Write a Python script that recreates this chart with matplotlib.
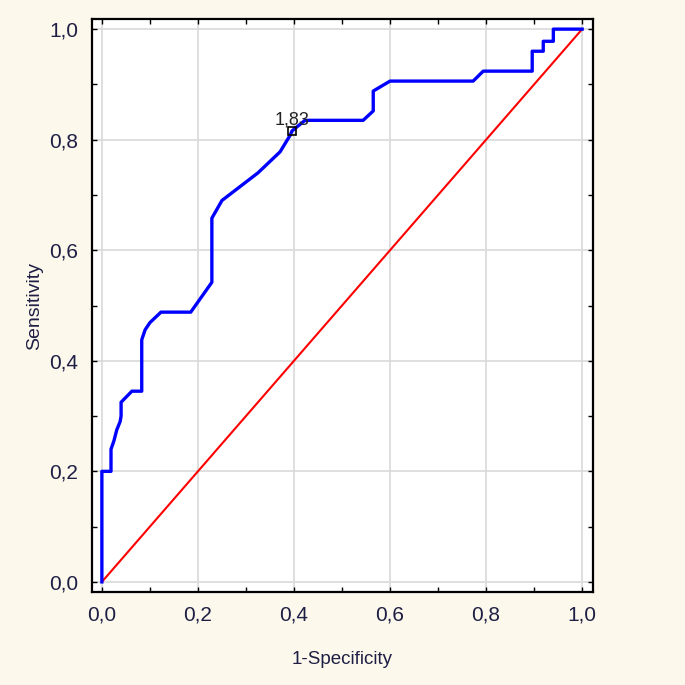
import matplotlib

matplotlib.use("Agg")
import matplotlib.pyplot as plt
from matplotlib.ticker import FuncFormatter, MultipleLocator

# ROC curve points (1-specificity, sensitivity)
fpr = [0.0, 0.0, 0.019, 0.019, 0.025, 0.031, 0.038, 0.040, 0.040, 0.0625,
       0.083, 0.083, 0.090, 0.100, 0.123, 0.185, 0.229, 0.229, 0.250, 0.283,
       0.325, 0.371, 0.392, 0.396, 0.423, 0.544, 0.565, 0.565, 0.600, 0.773,
       0.794, 0.896, 0.896, 0.919, 0.919, 0.940, 0.940, 1.0]
tpr = [0.0, 0.200, 0.200, 0.240, 0.255, 0.275, 0.29, 0.300, 0.325, 0.345,
       0.345, 0.438, 0.456, 0.469, 0.488, 0.488, 0.542, 0.658, 0.690, 0.712,
       0.740, 0.778, 0.808, 0.816, 0.835, 0.835, 0.852, 0.888, 0.906, 0.906,
       0.924, 0.924, 0.960, 0.960, 0.978, 0.978, 1.0, 1.0]

ref_line = [0.0, 1.0]
cutoff_point = (0.396, 0.816)
cutoff_label = "1,83"

ticks = [0.0, 0.2, 0.4, 0.6, 0.8, 1.0]

FONT = ["Liberation Sans Narrow", "Liberation Sans", "DejaVu Sans"]
TEXT_COLOR = "#1f1f45"


def comma_fmt(v, pos):
    return f"{v:.1f}".replace(".", ",")


def main():
    plt.rcParams["font.family"] = FONT
    fig = plt.figure(figsize=(6.85, 6.85), dpi=100, facecolor="#fcf8ec")
    ax = fig.add_axes([0.134, 0.136, 0.732, 0.836])
    ax.set_facecolor("white")

    ax.plot(ref_line, ref_line, color="#ff0000", lw=1.5, zorder=3)
    ax.plot(fpr, tpr, color="#0000ff", lw=2.4, zorder=4)
    ax.plot(*cutoff_point, marker="s", ms=6, mfc="none", mec="black",
            mew=1.2, zorder=5)
    ax.annotate(cutoff_label, xy=cutoff_point, xytext=(0, 2),
                textcoords="offset points", ha="center", va="bottom",
                fontsize=13, color="#222222", zorder=6)

    ax.set_xlim(-0.021, 1.023)
    ax.set_ylim(-0.018, 1.018)
    ax.set_xticks(ticks)
    ax.set_yticks(ticks)
    ax.xaxis.set_minor_locator(MultipleLocator(0.1))
    ax.yaxis.set_minor_locator(MultipleLocator(0.1))
    ax.xaxis.set_major_formatter(FuncFormatter(comma_fmt))
    ax.yaxis.set_major_formatter(FuncFormatter(comma_fmt))
    ax.grid(True, which="major", color="#d9d9d9", lw=1.2, zorder=0)
    ax.set_axisbelow(True)

    ax.tick_params(which="both", direction="in", top=True, right=True,
                   length=3.5, width=1, color="black")
    ax.tick_params(which="major", labelsize=15, labelcolor=TEXT_COLOR,
                   pad=10)
    for s in ax.spines.values():
        s.set_linewidth(1.6)
        s.set_color("black")

    ax.set_xlabel("1-Specificity", fontsize=13.5, color=TEXT_COLOR,
                  labelpad=19)
    ax.set_ylabel("Sensitivity", fontsize=14, color=TEXT_COLOR,
                  labelpad=4)

    fig.savefig("out.png", dpi=100, facecolor=fig.get_facecolor())
    plt.close(fig)


if __name__ == "__main__":
    main()
